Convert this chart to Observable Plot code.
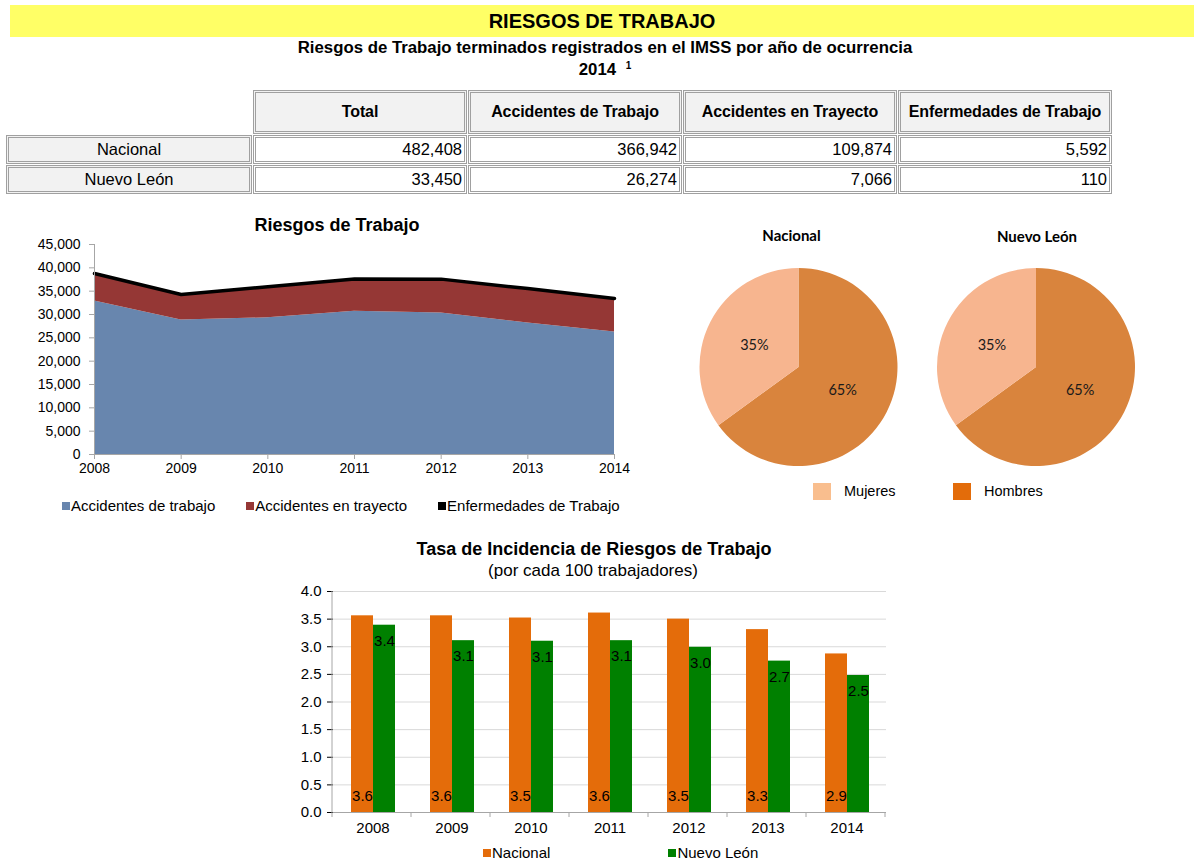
<!DOCTYPE html>
<html><head><meta charset="utf-8">
<script src="https://cdn.jsdelivr.net/npm/d3@7"></script>
<script src="https://cdn.jsdelivr.net/npm/@observablehq/plot@0.6"></script>
<style>
body{margin:0;width:1204px;height:864px;position:relative;background:#fff;font-family:"Liberation Sans",Arial,sans-serif;color:#000;overflow:hidden}
.abs{position:absolute;white-space:nowrap}
.c{transform:translate(-50%,-50%)}
#banner{left:10px;top:5px;width:1184px;height:32px;background:#FFFF66;text-align:center;font-weight:bold;font-size:20px;line-height:32px}
table{border-collapse:separate;border-spacing:1px;font-size:16.5px}
td{border:3px double #a0a0a0;padding:0 2px}
td.h{background:#f2f2f2;font-weight:bold;text-align:center;height:38px;font-size:16px;letter-spacing:-0.1px}
td.l{background:#f2f2f2;text-align:center;width:236px}
td.v{text-align:right;width:204px}
td.e{border:none;background:none}
tr.r td{height:23px}
.sw{display:inline-block;width:8px;height:8px;margin-right:1px;vertical-align:1px}
.plot{position:absolute}
</style></head><body>
<div id="banner" class="abs">RIESGOS DE TRABAJO</div>
<div id="root"></div>
<script>
// ---------- DATA ----------
const years = [2008, 2009, 2010, 2011, 2012, 2013, 2014];

const tableColumns = ["Total", "Accidentes de Trabajo", "Accidentes en Trayecto", "Enfermedades de Trabajo"];
const tableRows = ["Nacional", "Nuevo León"];
const tableNacional = [482408, 366942, 109874, 5592];
const tableNuevoLeon = [33450, 26274, 7066, 110];

const areaSeries = ["Accidentes de trabajo", "Accidentes en trayecto", "Enfermedades de Trabajo"];
const accidentesTrabajo = [32900, 28800, 29300, 30700, 30300, 28200, 26274];
const accidentesTrayecto = [5600, 5300, 6500, 6700, 7100, 7200, 7066];
const enfermedadesTrabajo = [300, 200, 150, 200, 180, 150, 110];
const areaColors = ["#6886AE", "#953735", "#000000"];
const areaTicks = [0, 5000, 10000, 15000, 20000, 25000, 30000, 35000, 40000, 45000];

const pieTitles = ["Nacional", "Nuevo León"];
const pieCategories = ["Hombres", "Mujeres"];
const pieNacional = [65, 35];
const pieNuevoLeon = [65, 35];
const pieColors = ["#D9843D", "#F7B58F"];
const pieLegend = ["Mujeres", "Hombres"];
const pieLegendColors = ["#F9BE8E", "#E36C0A"];

const barSeries = ["Nacional", "Nuevo León"];
const tasaNacional = [3.56, 3.56, 3.52, 3.61, 3.50, 3.31, 2.87];
const tasaNuevoLeon = [3.39, 3.11, 3.10, 3.11, 2.99, 2.74, 2.48];
const barColors = ["#E46C0A", "#008000"];
const barTicks = [0, 0.5, 1, 1.5, 2, 2.5, 3, 3.5, 4];

// ---------- helpers ----------
const root = document.getElementById("root");
function text(t, cx, cy, css) {
  const d = document.createElement("div");
  d.className = "abs c";
  d.style.left = cx + "px"; d.style.top = cy + "px";
  Object.assign(d.style, css || {});
  d.innerHTML = t;
  root.appendChild(d);
  return d;
}
function place(el, left, top) {
  const w = document.createElement("div");
  w.className = "plot"; w.style.left = left + "px"; w.style.top = top + "px";
  w.appendChild(el); root.appendChild(w);
}
const fmt = d3.format(",");

// ---------- titles ----------
text("Riesgos de Trabajo terminados registrados en el IMSS por año de ocurrencia", 605, 48, {fontWeight: "bold", fontSize: "16.8px"});
text("2014 <sup style='font-size:10px;margin-left:5px'>1</sup>", 605, 70, {fontWeight: "bold", fontSize: "16.8px"});

// ---------- table ----------
const table = document.createElement("table");
let html = "<tr><td class='e'></td>" + tableColumns.map(c => `<td class='h'>${c}</td>`).join("") + "</tr>";
[tableNacional, tableNuevoLeon].forEach((row, i) => {
  html += `<tr class='r'><td class='l'>${tableRows[i]}</td>` + row.map(v => `<td class='v'>${fmt(v)}</td>`).join("") + "</tr>";
});
table.innerHTML = html;
const tw = document.createElement("div");
tw.className = "abs"; tw.style.left = "5px"; tw.style.top = "89px";
tw.appendChild(table); root.appendChild(tw);

// ---------- area chart ----------
text("Riesgos de Trabajo", 337, 225, {fontWeight: "bold", fontSize: "18px"});
const areaData = [];
years.forEach((y, i) => {
  areaData.push({year: y, serie: areaSeries[0], value: accidentesTrabajo[i]});
  areaData.push({year: y, serie: areaSeries[1], value: accidentesTrayecto[i]});
  areaData.push({year: y, serie: areaSeries[2], value: enfermedadesTrabajo[i]});
});
const totals = years.map((y, i) => ({year: y, total: accidentesTrabajo[i] + accidentesTrayecto[i] + enfermedadesTrabajo[i]}));
const areaChart = Plot.plot({
  width: 640, height: 245, marginLeft: 94, marginRight: 26, marginTop: 4, marginBottom: 31,
  style: {fontFamily: "Liberation Sans, Arial, sans-serif", fontSize: "14px", color: "#000", background: "transparent", overflow: "visible"},
  x: {domain: [2008, 2014], ticks: years, tickFormat: d3.format("d"), tickSize: 5, tickPadding: 4, label: null},
  y: {domain: [0, 45000], ticks: areaTicks, tickFormat: d3.format(","), tickSize: 5, tickPadding: 9, label: null},
  color: {domain: areaSeries, range: areaColors},
  marks: [
    Plot.areaY(areaData, {x: "year", y: "value", z: "serie", fill: "serie"}),
    Plot.lineY(totals, {x: "year", y: "total", stroke: "#000", strokeWidth: 3.5}),
    Plot.ruleY([0], {stroke: "#a6a6a6"}),
    Plot.ruleX([2008], {stroke: "#a6a6a6"})
  ]
});
d3.select(areaChart).selectAll("[aria-label='x-axis tick'], [aria-label='y-axis tick']").attr("stroke", "#a6a6a6");
place(areaChart, 0, 240);
// legend
const al = document.createElement("div");
al.className = "abs"; al.style.left = "62px"; al.style.top = "497px"; al.style.fontSize = "15px";
al.innerHTML = areaSeries.map((s, i) => `<span style="margin-right:${i < 2 ? 31 : 0}px"><span class="sw" style="background:${areaColors[i]}"></span>${s}</span>`).join("");
root.appendChild(al);

// ---------- pies ----------
const pieSets = [pieNacional, pieNuevoLeon];
const pieCenters = [[118.5, 141], [356, 141]];
const pieChart = Plot.plot({
  width: 524, height: 250, margin: 0,
  style: {background: "transparent", overflow: "visible"},
  marks: [
    () => {
      const g = d3.create("svg:g");
      const arc = d3.arc().innerRadius(0).outerRadius(99);
      const pie = d3.pie().sort(null).value(d => d.v);
      pieSets.forEach((vals, k) => {
        const data = vals.map((v, i) => ({v, cat: pieCategories[i], color: pieColors[i]}));
        const gg = g.append("g").attr("transform", `translate(${pieCenters[k][0]},${pieCenters[k][1]})`);
        const arcs = pie(data);
        gg.selectAll("path").data(arcs).join("path").attr("d", arc).attr("fill", d => d.data.color);
        gg.selectAll("text.v").data(arcs).join("text")
          .attr("transform", d => `translate(${arc.centroid(d)})`)
          .attr("text-anchor", "middle").attr("dy", "0.35em")
          .style("font-family", "Lato, 'Open Sans', sans-serif").style("font-size", "14.5px").attr("fill", "#1a1a1a")
          .text(d => d.data.v + "%");
        g.append("text").attr("x", pieCenters[k][0] - (k === 0 ? 7 : -1)).attr("y", 10 + (k === 0 ? 0 : 1))
          .attr("text-anchor", "middle").attr("dy", "0.35em")
          .style("font-family", "Lato, 'Open Sans', sans-serif").style("font-size", "15px").style("font-weight", "bold")
          .text(pieTitles[k]);
      });
      return g.node();
    }
  ]
});
place(pieChart, 680, 226);
const pl = document.createElement("div");
pl.className = "abs"; pl.style.left = "813px"; pl.style.top = "483px"; pl.style.fontSize = "14.5px";
pl.innerHTML = pieLegend.map((s, i) => `<span style="display:inline-block;width:${i === 0 ? 140 : 100}px"><span style="display:inline-block;width:18px;height:17px;background:${pieLegendColors[i]};vertical-align:-4px;margin-right:13px"></span>${s}</span>`).join("");
root.appendChild(pl);

// ---------- bar chart ----------
text("Tasa de Incidencia de Riesgos de Trabajo", 594, 549, {fontWeight: "bold", fontSize: "18px"});
text("(por cada 100 trabajadores)", 593, 571, {fontSize: "17px"});
const barData = [];
years.forEach((y, i) => {
  barData.push({year: String(y), serie: barSeries[0], value: tasaNacional[i]});
  barData.push({year: String(y), serie: barSeries[1], value: tasaNuevoLeon[i]});
});
const lbl = d3.format(".1f");
const barChart = Plot.plot({
  width: 640, height: 265, marginLeft: 72, marginRight: 13, marginTop: 11, marginBottom: 33,
  style: {fontFamily: "Liberation Sans, Arial, sans-serif", fontSize: "15px", color: "#000", background: "transparent", overflow: "visible"},
  fx: {domain: years.map(String), padding: 0, axis: "bottom", tickSize: 0, tickPadding: 10, label: null},
  x: {domain: barSeries, paddingInner: 0, paddingOuter: 0.76, axis: null},
  y: {domain: [0, 4], ticks: barTicks, tickFormat: d3.format(".1f"), tickSize: 6, tickPadding: 6, label: null},
  color: {domain: barSeries, range: barColors},
  marks: [
    Plot.gridY(barTicks.slice(1), {stroke: "#d9d9d9", strokeOpacity: 1}),
    Plot.barY(barData, {fx: "year", x: "serie", y: "value", fill: "serie"}),
    Plot.text(barData.filter(d => d.serie === barSeries[0]), {fx: "year", x: "serie", y: 0, dy: -16, text: d => lbl(d.value), fill: "#000", fontSize: 15}),
    Plot.text(barData.filter(d => d.serie === barSeries[1]), {fx: "year", x: "serie", y: "value", dy: 16, text: d => lbl(d.value), fill: "#000", fontSize: 15}),
    Plot.ruleY([0], {stroke: "#a6a6a6"})
  ]
});
// axis line and category boundary ticks from the plot's own scales
{
  const fxS = barChart.scale("fx"), yS = barChart.scale("y");
  const svg = d3.select(barChart.tagName === "svg" ? barChart : barChart.querySelector("svg"));
  const x0 = fxS.range[0], step = fxS.step;
  const y0 = yS.range[0], y1 = yS.range[1];
  svg.append("line").attr("x1", x0).attr("x2", x0).attr("y1", y0).attr("y2", y1).attr("stroke", "#a6a6a6");
  for (let k = 0; k <= fxS.domain.length; k++) {
    svg.append("line").attr("x1", x0 + k * step).attr("x2", x0 + k * step).attr("y1", y0).attr("y2", y0 + 5).attr("stroke", "#a6a6a6");
  }
  svg.selectAll("[aria-label='y-axis tick']").attr("stroke", "#a6a6a6");
}
place(barChart, 260, 580);
const bl = document.createElement("div");
bl.className = "abs"; bl.style.left = "483px"; bl.style.top = "844px"; bl.style.fontSize = "15px";
bl.innerHTML = barSeries.map((s, i) => `<span style="margin-right:${i === 0 ? 118 : 0}px"><span class="sw" style="background:${barColors[i]}"></span>${s}</span>`).join("");
root.appendChild(bl);
</script>
</body></html>
